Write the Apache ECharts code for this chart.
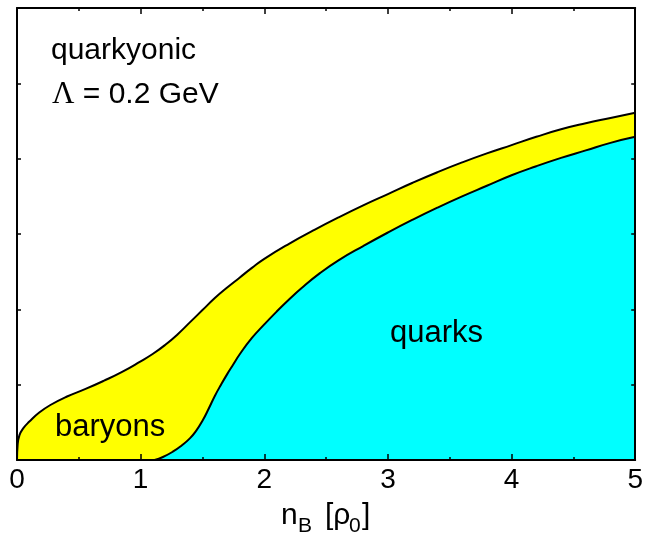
<!DOCTYPE html>
<html>
<head>
<meta charset="utf-8">
<script src="https://cdn.jsdelivr.net/npm/echarts@6/dist/echarts.min.js"></script>
<style>
  html, body { margin: 0; padding: 0; background: #fff; }
  #chart { width: 646px; height: 537px; }
</style>
</head>
<body>
<div id="chart"></div>
<script>
// Baryon density n_B in units of rho_0
const xTicks = [0, 1, 2, 3, 4, 5];

// Upper boundary (baryons + quarks), the edge of the yellow band
const upperX = [0, 0.005, 0.02, 0.05, 0.1, 0.18, 0.27, 0.4, 0.55, 0.7, 0.85, 1.0, 1.1, 1.2, 1.3, 1.4, 1.5, 1.6, 1.7, 1.8, 1.9, 2.0, 2.2, 2.4, 2.6, 2.8, 3.0, 3.2, 3.4, 3.6, 3.8, 4.0, 4.2, 4.4, 4.6, 4.8, 5.0];
const upperY = [0, 0.20, 0.33, 0.42, 0.51, 0.63, 0.73, 0.84, 0.94, 1.05, 1.17, 1.31, 1.41, 1.53, 1.67, 1.83, 1.99, 2.15, 2.29, 2.42, 2.55, 2.67, 2.87, 3.05, 3.22, 3.38, 3.53, 3.68, 3.82, 3.95, 4.07, 4.18, 4.29, 4.39, 4.47, 4.54, 4.61];

// Quark contribution, the edge of the cyan region
const lowerX = [1.113, 1.18, 1.26, 1.33, 1.4, 1.45, 1.5, 1.55, 1.6, 1.65, 1.7, 1.75, 1.8, 1.9, 2.0, 2.1, 2.2, 2.3, 2.45, 2.6, 2.8, 3.0, 3.2, 3.4, 3.6, 3.8, 4.0, 4.2, 4.4, 4.6, 4.8, 5.0];
const lowerY = [0, 0.04, 0.11, 0.19, 0.29, 0.39, 0.52, 0.68, 0.85, 1.00, 1.14, 1.27, 1.40, 1.62, 1.80, 1.97, 2.13, 2.28, 2.48, 2.65, 2.84, 3.02, 3.19, 3.35, 3.50, 3.64, 3.78, 3.90, 4.01, 4.11, 4.21, 4.29];

const pair = (xs, ys) => xs.map((x, i) => [x, ys[i]]);

const FONT = '"Liberation Sans", Arial, Helvetica, sans-serif';
const SERIF = '"Liberation Serif", "DejaVu Serif", serif';

const chart = echarts.init(document.getElementById('chart'), null, { renderer: 'canvas' });

const frameAxis = (extra) => Object.assign({
  type: 'value',
  z: 10,
  axisLine: { show: true, onZero: false, lineStyle: { color: '#000', width: 2 } },
  axisTick: { show: true, inside: true, length: 6, lineStyle: { color: '#000', width: 1.5 } },
  minorTick: { show: false },
  splitLine: { show: false },
  axisLabel: { show: false }
}, extra);

chart.setOption({
  animation: false,
  backgroundColor: '#fff',
  grid: { left: 17, right: 9, top: 8, bottom: 77, containLabel: false },
  xAxis: [
    frameAxis({
      position: 'bottom', min: xTicks[0], max: xTicks[xTicks.length - 1], interval: 1,
      minorTick: { show: true, splitNumber: 2, length: 3, lineStyle: { color: '#000', width: 1.5 } },
      axisLabel: { show: true, margin: 6, color: '#000', fontSize: 28, fontFamily: FONT }
    }),
    frameAxis({
      position: 'top', min: xTicks[0], max: xTicks[xTicks.length - 1], interval: 1,
      minorTick: { show: true, splitNumber: 2, length: 3, lineStyle: { color: '#000', width: 1.5 } }
    })
  ],
  yAxis: [
    frameAxis({ position: 'left', min: 0, max: 6, interval: 1, axisTick: { show: true, inside: true, length: 4, lineStyle: { color: '#000', width: 1.5 } } }),
    frameAxis({ position: 'right', min: 0, max: 6, interval: 1, axisTick: { show: true, inside: true, length: 4, lineStyle: { color: '#000', width: 1.5 } } })
  ],
  series: [
    {
      name: 'baryons',
      type: 'line',
      xAxisIndex: 0, yAxisIndex: 0,
      data: pair(upperX, upperY),
      smooth: 0.5,
      showSymbol: false,
      z: 2,
      lineStyle: { color: '#000', width: 2 },
      areaStyle: { color: '#ffff00', opacity: 1, origin: 'start' }
    },
    {
      name: 'quarks',
      type: 'line',
      xAxisIndex: 0, yAxisIndex: 0,
      data: pair(lowerX, lowerY),
      smooth: 0.5,
      showSymbol: false,
      z: 3,
      lineStyle: { color: '#000', width: 2 },
      areaStyle: { color: '#00ffff', opacity: 1, origin: 'start' }
    }
  ],
  graphic: [
    { type: 'text', left: 51, top: 36, z: 20, style: { text: 'quarkyonic', font: '30px ' + FONT, fill: '#000' } },
    { type: 'text', left: 52, top: 79, z: 20, style: {
        text: '{g|Λ} = 0.2 GeV', font: '30px ' + FONT, fill: '#000',
        rich: { g: { fontFamily: SERIF, fontSize: 31, fill: '#000' } }
      } },
    { type: 'text', left: 55, top: 412, z: 20, style: { text: 'baryons', font: '31px ' + FONT, fill: '#000' } },
    { type: 'text', left: 390, top: 318, z: 20, style: { text: 'quarks', font: '31px ' + FONT, fill: '#000' } },
    // axis title: n_B [rho_0]
    { type: 'text', left: 281, top: 501, z: 20, style: { text: 'n', font: '30px ' + FONT, fill: '#000' } },
    { type: 'text', left: 298, top: 516, z: 20, style: { text: 'B', font: '21px ' + FONT, fill: '#000' } },
    { type: 'text', left: 325, top: 501, z: 20, style: { text: '[ρ', font: '30px ' + FONT, fill: '#000' } },
    { type: 'text', left: 349, top: 516, z: 20, style: { text: '0', font: '21px ' + FONT, fill: '#000' } },
    { type: 'text', left: 362, top: 501, z: 20, style: { text: ']', font: '30px ' + FONT, fill: '#000' } }
  ]
});
</script>
</body>
</html>
